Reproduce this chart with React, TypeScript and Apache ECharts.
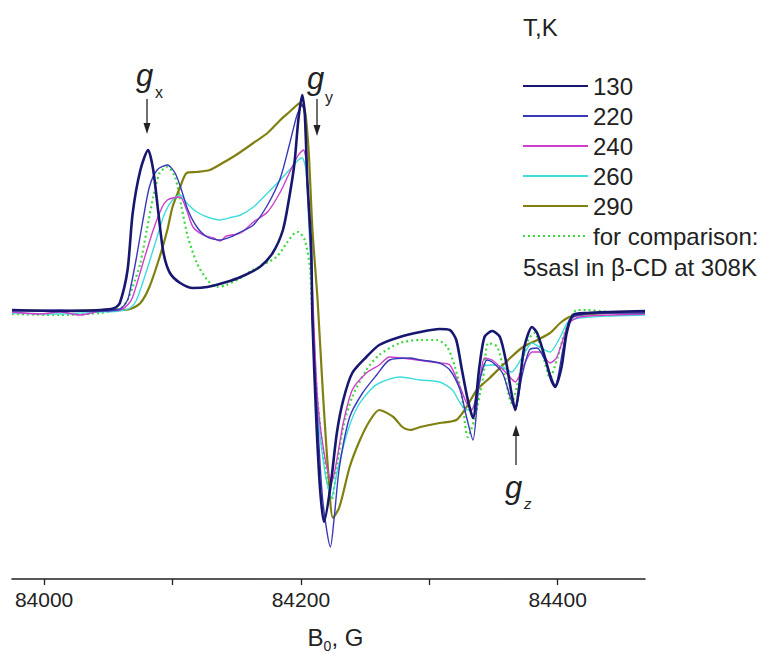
import React, { useEffect, useRef } from 'react';
import * as echarts from 'echarts';

// ---- data (field B0 in G, signal in arbitrary units) ----
const seriesNames = ['130', '220', '240', '260', '290', 'for comparison:'];
const legendTitle = 'T,K';
const comparisonNote = '5sasl in \u03b2-CD at 308K';
const tickValues = [84000, 84100, 84200, 84300, 84400];
const tickLabels = [84000, 84200, 84400];

const s130 = [
  [83975, 2], [84012, 1], [84044, 2], [84055, 4], [84059, 9], [84065, 42], [84069, 99], [84075, 142],
  [84081, 162], [84085, 142], [84089, 99], [84093, 59], [84098, 39], [84106, 29], [84116, 24], [84127, 25],
  [84142, 30], [84153, 35], [84168, 45], [84178, 59], [84186, 82], [84191, 115], [84195, 149], [84198, 192],
  [84201, 217], [84203, 199], [84205, 132], [84208, 65], [84209, -8], [84212, -108], [84215, -178], [84218, -210],
  [84223, -175], [84228, -121], [84233, -88], [84240, -61], [84251, -45], [84261, -33], [84277, -25], [84293, -20],
  [84308, -17], [84316, -18], [84321, -28], [84325, -55], [84330, -88], [84334, -106], [84339, -55], [84343, -25],
  [84349, -19], [84355, -25], [84360, -51], [84364, -81], [84367, -98], [84370, -75], [84374, -35], [84380, -15],
  [84384, -21], [84390, -45], [84395, -68], [84398, -75], [84403, -55], [84407, -21], [84412, -3], [84423, -1],
  [84440, 0], [84468, 1],
];

const s220 = [
  [83975, 1], [84012, 2], [84044, 1], [84059, 3], [84065, 12], [84067, 22], [84072, 55], [84077, 92],
  [84082, 125], [84088, 142], [84096, 147], [84102, 139], [84107, 122], [84112, 102], [84119, 85], [84127, 75],
  [84137, 72], [84147, 76], [84153, 80], [84163, 87], [84174, 107], [84184, 134], [84191, 167], [84197, 197],
  [84201, 207], [84203, 197], [84205, 132], [84208, 62], [84209, -8], [84213, -108], [84217, -188], [84223, -235],
  [84226, -205], [84230, -155], [84238, -105], [84248, -81], [84259, -63], [84269, -48], [84285, -46], [84293, -48],
  [84308, -51], [84316, -58], [84324, -78], [84329, -105], [84334, -128], [84339, -71], [84345, -48], [84349, -50],
  [84357, -61], [84363, -85], [84367, -98], [84372, -65], [84378, -38], [84384, -36], [84391, -51], [84398, -73],
  [84404, -38], [84409, -8], [84417, -3], [84440, -1], [84468, -1],
];

const s240 = [
  [83975, 0], [83997, -2], [84012, 0], [84028, -3], [84044, 1], [84059, 2], [84065, 7], [84069, 15],
  [84077, 49], [84085, 82], [84092, 105], [84096, 112], [84100, 114], [84106, 115], [84111, 102], [84116, 85],
  [84124, 77], [84132, 74], [84137, 71], [84142, 76], [84153, 79], [84163, 90], [84174, 100], [84184, 120],
  [84191, 139], [84198, 157], [84202, 162], [84204, 152], [84206, 102], [84209, 22], [84213, -88], [84219, -148],
  [84224, -170], [84228, -148], [84233, -111], [84240, -78], [84251, -61], [84261, -53], [84269, -45], [84285, -47],
  [84308, -51], [84316, -53], [84324, -75], [84329, -91], [84333, -98], [84339, -71], [84343, -46], [84349, -48],
  [84360, -61], [84367, -70], [84373, -55], [84380, -40], [84386, -40], [84394, -51], [84399, -46], [84404, -28],
  [84409, -11], [84417, -5], [84440, -3], [84468, -2],
];

const s260 = [
  [83975, -1], [84012, -2], [84044, 0], [84059, 1], [84067, 4], [84072, 12], [84080, 42], [84088, 75],
  [84094, 99], [84100, 112], [84106, 117], [84111, 109], [84119, 100], [84127, 95], [84137, 92], [84147, 95],
  [84153, 97], [84163, 105], [84174, 119], [84184, 132], [84191, 142], [84198, 152], [84201, 154], [84204, 142],
  [84206, 92], [84209, 12], [84213, -98], [84219, -163], [84224, -185], [84228, -161], [84236, -121], [84244, -95],
  [84254, -78], [84261, -71], [84277, -65], [84293, -68], [84308, -70], [84318, -78], [84324, -91], [84329, -98],
  [84334, -96], [84342, -55], [84349, -53], [84357, -55], [84364, -60], [84372, -46], [84380, -31], [84386, -35],
  [84394, -40], [84402, -25], [84408, -10], [84417, -6], [84440, -4], [84468, -3],
];

const s290 = [
  [83975, 2], [84012, 1], [84044, 2], [84059, 2], [84067, 3], [84075, 9], [84082, 25], [84090, 55],
  [84096, 82], [84100, 105], [84106, 125], [84111, 139], [84119, 140], [84129, 142], [84139, 149], [84147, 155],
  [84153, 160], [84163, 169], [84174, 179], [84184, 192], [84191, 200], [84197, 207], [84199, 209], [84203, 202],
  [84206, 162], [84209, 82], [84213, 12], [84217, -78], [84221, -155], [84225, -206], [84230, -195], [84238, -155],
  [84246, -128], [84254, -108], [84261, -98], [84272, -105], [84279, -115], [84285, -118], [84293, -115], [84308, -111],
  [84321, -108], [84329, -95], [84337, -78], [84347, -66], [84363, -46], [84373, -35], [84384, -28], [84394, -21],
  [84402, -11], [84409, -5], [84417, -3], [84440, -1], [84468, 0],
];

const sComp = [
  [83975, -2], [84012, -3], [84044, -1], [84055, 2], [84061, 5], [84065, 12], [84069, 25], [84075, 49],
  [84080, 82], [84085, 115], [84090, 139], [84096, 145], [84102, 135], [84107, 105], [84112, 75], [84119, 49],
  [84127, 32], [84135, 25], [84142, 27], [84153, 34], [84160, 40], [84170, 47], [84181, 55], [84189, 69],
  [84195, 79], [84198, 80], [84203, 72], [84207, 45], [84209, -8], [84213, -88], [84219, -158], [84224, -188],
  [84228, -155], [84233, -115], [84240, -85], [84251, -58], [84261, -43], [84277, -31], [84293, -28], [84306, -28],
  [84314, -35], [84320, -55], [84325, -81], [84330, -125], [84335, -108], [84342, -65], [84346, -31], [84353, -35],
  [84359, -65], [84364, -91], [84370, -65], [84377, -28], [84382, -21], [84388, -41], [84394, -66], [84400, -45],
  [84407, -15], [84415, 2], [84423, 2], [84440, 0], [84468, -1],
];

const allData = [s130, s220, s240, s260, s290, sComp];
const colors = ['#17176f', '#3838b8', '#cc3fcc', '#3fdcdc', '#808012', '#3fd83f'];
const widths = [2.6, 1.4, 1.4, 1.4, 2.2, 2.2];

const FONT = '"Liberation Sans", Arial, Helvetica, sans-serif';

export default function App() {
  const ref = useRef<HTMLDivElement>(null);
  useEffect(() => {
    if (!ref.current) return;
    const chart = echarts.init(ref.current, null, { renderer: 'svg' });
    const series = seriesNames.map((name, i) => ({
      name,
      type: 'line',
      data: allData[i],
      symbol: 'none',
      showSymbol: false,
      smooth: 0.25,
      z: i === 0 ? 10 : 5 - i,
      lineStyle: {
        color: colors[i],
        width: widths[i],
        type: i === 5 ? [2, 3] : 'solid',
      },
      itemStyle: { color: colors[i] },
    }));
    const gfont = (size: number) => `italic ${size}px ${FONT}`;
    const sfont = (size: number) => `${size}px ${FONT}`;
    chart.setOption({
      animation: false,
      backgroundColor: '#ffffff',
      textStyle: { fontFamily: FONT },
      grid: { left: 12, right: 118, top: 20, bottom: 84, containLabel: false, outerBoundsMode: 'none' },
      xAxis: {
        type: 'value',
        min: 83975,
        max: 84468,
        name: '{b|B}{sub|0}{b|, G}',
        nameLocation: 'middle',
        nameGap: 46,
        nameTextStyle: {
          fontFamily: FONT,
          padding: [0, 0, 0, 14],
          rich: {
            b: { fontSize: 24, color: '#222', lineHeight: 24, verticalAlign: 'top', fontFamily: FONT },
            sub: { fontSize: 14, color: '#222', lineHeight: 14, verticalAlign: 'top', padding: [14, 0, 0, 0], fontFamily: FONT },
          },
        },
        axisLine: { show: true, onZero: false, lineStyle: { color: '#222', width: 1.5 } },
        axisTick: { show: true, length: 6, inside: false, customValues: tickValues, lineStyle: { color: '#222', width: 1.3 } },
        axisLabel: {
          customValues: tickLabels,
          fontSize: 21,
          color: '#222',
          margin: 10,
          fontFamily: FONT,
          formatter: (v: number) => String(v),
        },
        splitLine: { show: false },
      },
      yAxis: { type: 'value', min: -267, max: 292, show: false },
      legend: {
        orient: 'vertical',
        left: 522,
        top: 74,
        padding: 0,
        itemWidth: 65,
        itemHeight: 14,
        itemGap: 6,
        data: seriesNames,
        itemStyle: { opacity: 0, color: 'transparent', borderWidth: 0 },
        textStyle: { fontSize: 24, color: '#222', fontFamily: FONT, lineHeight: 24 },
        selectedMode: false,
      },
      series,
      graphic: [
        { type: 'text', left: 523, top: 15, style: { text: legendTitle, font: sfont(24), fill: '#222' } },
        { type: 'text', left: 523, top: 255, style: { text: comparisonNote, font: sfont(24), fill: '#222' } },
        // g_x
        { type: 'text', x: 136, y: 75, style: { text: 'g', font: gfont(31), fill: '#222', verticalAlign: 'middle' } },
        { type: 'text', x: 155, y: 92, style: { text: 'x', font: sfont(16), fill: '#222', verticalAlign: 'middle' } },
        { type: 'line', shape: { x1: 147, y1: 99, x2: 147, y2: 126 }, style: { stroke: '#222', lineWidth: 1.3 } },
        { type: 'polygon', shape: { points: [[143.5, 123], [150.5, 123], [147, 134]] }, style: { fill: '#222' } },
        // g_y
        { type: 'text', x: 307, y: 78, style: { text: 'g', font: gfont(31), fill: '#222', verticalAlign: 'middle' } },
        { type: 'text', x: 325, y: 97, style: { text: 'y', font: sfont(16), fill: '#222', verticalAlign: 'middle' } },
        { type: 'line', shape: { x1: 317, y1: 99, x2: 317, y2: 128 }, style: { stroke: '#222', lineWidth: 1.3 } },
        { type: 'polygon', shape: { points: [[313.5, 125], [320.5, 125], [317, 136]] }, style: { fill: '#222' } },
        // g_z
        { type: 'line', shape: { x1: 516, y1: 434, x2: 516, y2: 465 }, style: { stroke: '#222', lineWidth: 1.3 } },
        { type: 'polygon', shape: { points: [[512.5, 436], [519.5, 436], [516, 425]] }, style: { fill: '#222' } },
        { type: 'text', x: 505, y: 487, style: { text: 'g', font: gfont(31), fill: '#222', verticalAlign: 'middle' } },
        { type: 'text', x: 524, y: 503, style: { text: 'z', font: gfont(15), fill: '#222', verticalAlign: 'middle' } },
      ],
    });
    return () => chart.dispose();
  }, []);
  return (
    <div
      ref={ref}
      style={{ position: 'fixed', left: 0, top: 0, width: 763, height: 663, background: '#fff' }}
    />
  );
}
